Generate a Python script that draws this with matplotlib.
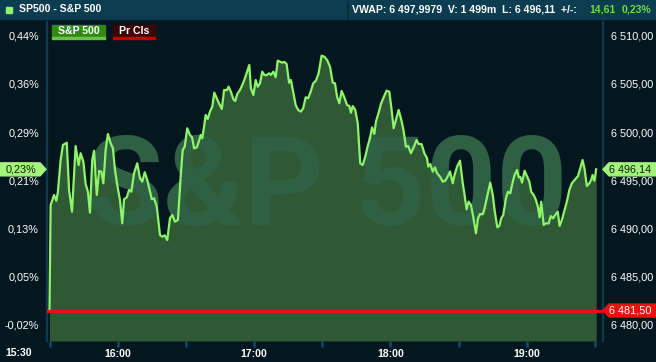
import matplotlib
matplotlib.use("Agg")
import matplotlib.pyplot as plt
import matplotlib.transforms as mtransforms
from matplotlib.patches import Rectangle, Polygon
from matplotlib.lines import Line2D

plt.rcParams['font.family'] = ['Liberation Sans', 'DejaVu Sans']

# minutes after 15:30 and S&P 500 index level
minutes = [
    0, 0.5, 2.0, 3.0, 3.7, 4.9, 5.9, 7.6, 8.6, 9.9,
    11.5, 12.8, 13.7, 14.9, 15.9, 16.9, 17.8, 18.8, 19.6, 20.8,
    21.8, 22.8, 23.7, 24.7, 25.7, 26.9, 27.9, 28.8, 29.8, 31.0,
    32.0, 32.8, 34.0, 35.0, 36.0, 37.2, 38.6, 39.8, 40.8, 41.9,
    43.0, 44.2, 45.0, 46.0, 47.2, 48.6, 49.6, 50.7, 51.8, 53.0,
    54.0, 55.2, 56.5, 57.7, 58.6, 59.5, 60.6, 61.8, 62.7, 63.6,
    64.8, 65.9, 66.5, 67.2, 68.0, 68.7, 69.6, 70.6, 71.6, 72.5,
    73.6, 74.7, 75.8, 76.8, 78.0, 78.8, 79.8, 80.9, 81.7, 82.6,
    83.8, 84.8, 85.7, 86.7, 87.9, 88.6, 89.7, 90.7, 91.6, 92.6,
    93.6, 94.5, 95.5, 96.6, 97.4, 98.5, 99.5, 100.4, 101.4, 102.4,
    103.3, 104.3, 105.4, 106.2, 107.2, 108.3, 109.4, 110.6, 111.6, 112.7,
    113.8, 114.9, 116.0, 117.2, 118.4, 119.7, 120.9, 122.1, 123.4, 124.6,
    125.6, 126.5, 127.5, 128.5, 129.7, 130.9, 131.9, 132.6, 133.4, 134.5,
    135.6, 136.7, 137.8, 138.9, 140.0, 141.0, 141.9, 142.9, 143.6, 144.8,
    145.8, 147.0, 148.3, 149.5, 150.5, 151.4, 152.4, 153.6, 154.6, 155.6,
    156.8, 157.8, 159.0, 160.2, 161.5, 162.4, 163.7, 164.9, 166.1, 166.6,
    167.5, 168.6, 169.6, 170.5, 171.8, 173.0, 174.1, 175.2, 176.2, 177.4,
    178.2, 179.3, 180.6, 181.8, 182.6, 183.5, 184.4, 185.4, 186.4, 187.6,
    188.5, 189.4, 190.6, 191.4, 192.5, 193.9, 195.0, 195.8, 197.0, 197.9,
    198.7, 199.6, 200.8, 201.7, 202.7, 203.8, 204.6, 205.7, 206.4, 207.1,
    207.9, 209.0, 210.0, 211.1, 211.9, 213.0, 214.0, 214.9, 215.6, 216.3,
    217.4, 218.4, 219.6, 220.5, 221.5, 222.5, 223.6, 224.4, 225.4, 226.6,
    227.6, 228.7, 229.8, 231.3, 232.5, 233.5, 234.5, 235.4, 236.4, 237.5,
    238.3, 238.9, 239.7, 240.5,
]
prices = [
    6481.50, 6492.44, 6493.48, 6492.89, 6493.82, 6497.11, 6498.67, 6498.90, 6494.00, 6491.75,
    6498.56, 6496.59, 6497.81, 6496.93, 6494.62, 6493.82, 6491.65, 6497.11, 6498.07, 6493.48,
    6495.97, 6495.90, 6494.69, 6498.15, 6499.81, 6498.84, 6498.32, 6496.07, 6494.52, 6492.96,
    6490.55, 6493.04, 6493.24, 6494.00, 6493.82, 6495.73, 6496.77, 6495.21, 6494.86, 6495.84,
    6495.04, 6493.82, 6493.04, 6493.14, 6492.27, 6489.33, 6489.16, 6489.30, 6488.81, 6491.06,
    6491.41, 6490.71, 6490.89, 6495.38, 6498.15, 6498.49, 6500.40, 6499.70, 6499.46, 6498.32,
    6498.43, 6499.18, 6499.70, 6499.36, 6500.56, 6501.78, 6501.36, 6502.12, 6502.64, 6504.09,
    6503.51, 6502.92, 6502.40, 6504.37, 6504.35, 6504.71, 6504.19, 6503.41, 6503.23, 6503.95,
    6504.37, 6504.89, 6505.41, 6506.10, 6506.96, 6504.55, 6503.85, 6505.41, 6504.71, 6505.06,
    6506.27, 6505.93, 6505.90, 6506.10, 6505.93, 6506.27, 6505.69, 6507.41, 6507.30, 6507.20,
    6507.28, 6507.07, 6505.13, 6505.41, 6504.19, 6502.81, 6502.30, 6502.12, 6502.47, 6503.61,
    6503.51, 6504.19, 6505.06, 6505.33, 6506.10, 6507.93, 6507.82, 6507.48, 6506.79, 6505.13,
    6505.06, 6503.67, 6502.99, 6504.27, 6503.61, 6502.81, 6502.71, 6502.02, 6502.70, 6502.30,
    6500.92, 6496.77, 6496.59, 6497.45, 6498.56, 6499.36, 6500.50, 6499.81, 6501.08, 6502.02,
    6502.92, 6503.61, 6504.30, 6504.19, 6502.30, 6500.40, 6501.26, 6502.30, 6501.43, 6500.38,
    6498.49, 6498.56, 6497.81, 6498.43, 6499.18, 6498.77, 6498.75, 6497.81, 6497.29, 6496.42,
    6496.70, 6495.90, 6496.35, 6495.73, 6495.38, 6494.86, 6494.96, 6495.40, 6495.92, 6494.69,
    6495.56, 6496.42, 6497.04, 6494.70, 6493.48, 6492.00, 6492.79, 6492.44, 6491.23, 6489.51,
    6491.06, 6491.51, 6491.48, 6492.10, 6493.30, 6494.76, 6493.50, 6491.93, 6490.13, 6490.27,
    6491.05, 6491.40, 6493.14, 6493.82, 6493.66, 6494.85, 6495.55, 6496.07, 6495.32, 6495.36,
    6494.76, 6496.00, 6495.45, 6494.86, 6493.82, 6493.48, 6492.96, 6492.21, 6491.17, 6492.79,
    6490.37, 6490.55, 6490.53, 6491.30, 6491.06, 6491.41, 6491.75, 6490.27, 6490.89, 6491.93,
    6492.79, 6494.00, 6494.69, 6495.11, 6495.45, 6496.25, 6497.11, 6496.15, 6494.41, 6494.70,
    6495.04, 6495.56, 6494.96, 6496.14,
]

prev_close = 6481.50
last_price = 6496.14
price_ticks = [6480, 6485, 6490, 6495, 6500, 6505, 6510]
time_ticks = [0, 30, 60, 90, 120, 150, 180, 210, 240]
time_labels = ["", "16:00", "", "17:00", "", "18:00", "", "19:00", ""]
header_info = "VWAP: 6 497,9979  V: 1 499m  L: 6 496,11  +/-:"
header_change = "14,61"
header_pct = "0,23%"

BG = '#04171f'
HEADER = '#0b3c50'
FILL = '#2f5934'
LINE = '#8ef56a'
RED = '#e8120f'
SPINE = '#0e3a50'
TAG_GREEN = '#a2f57a'


def fmt_price(v):
    return f"{v:,.2f}".replace(",", " ").replace(".", ",")


def fmt_pct(v):
    return f"{(v / prev_close - 1) * 100:.2f}%".replace(".", ",")


W, H = 656, 362
fig = plt.figure(figsize=(W / 100, H / 100), dpi=100, facecolor=BG)


def fx(x):
    return x / W


def fy(y):
    return 1 - y / H


# header bar
fig.add_artist(Rectangle((0, fy(19)), 1, 19 / H, transform=fig.transFigure,
                         color=HEADER, zorder=0))
fig.add_artist(Rectangle((fx(6), fy(12.5)), 5.5 / W, 5.5 / H, transform=fig.transFigure,
                         color=LINE, zorder=1))
fig.add_artist(Line2D([fx(348), fx(348)], [fy(2), fy(18)], color='#062a38', lw=1.2))
fig.text(fx(19), fy(9.5), "SP500 - S&P 500", color='white', fontsize=7.6,
         fontweight='bold', va='center', ha='left')
fig.text(fx(352), fy(9.5), header_info, color='white', fontsize=7.6,
         fontweight='bold', va='center', ha='left')
fig.text(fx(589), fy(9.5), header_change, color='#72d84c', fontsize=7.6,
         fontweight='bold', va='center', ha='left')
fig.text(fx(622), fy(9.5), header_pct, color='#72d84c', fontsize=7.6,
         fontweight='bold', va='center', ha='left')

# main panel
ax = fig.add_axes([fx(47), 21 / H, (603 - 47) / W, 319 / H])
ax.set_facecolor(BG)
ymin, ymax = 6478.34, 6511.42
ax.set_xlim(-1.1, 243.5)
ax.set_ylim(ymin, ymax)

area = ax.fill_between(minutes, prices, ymin, color=FILL, lw=0, zorder=1)
ax.plot(minutes, prices, color=LINE, lw=1.6, zorder=3, solid_joinstyle='round')
ax.axhline(prev_close, color=RED, lw=2.3, zorder=4)

# watermark: dark-blue on the background, lighter teal where it sits on the area
wm = dict(transform=ax.transAxes, ha='center', va='baseline', fontsize=89,
          fontfamily='Roboto', fontweight='bold')
ax.text(0.5036, (341 - 225) / 319, "S&P 500", color='#082b3b', zorder=0.5, **wm)
wm_on_area = ax.text(0.5036, (341 - 225) / 319, "S&P 500", color='#2f6043', zorder=2, **wm)
wm_on_area.set_clip_path(area.get_paths()[0], ax.transData)

for side in ['top', 'bottom']:
    ax.spines[side].set_visible(False)
for side in ['left', 'right']:
    ax.spines[side].set_color(SPINE)
    ax.spines[side].set_linewidth(1.6)

ax.set_xticks(time_ticks)
ax.set_xticklabels(time_labels, fontweight='bold')
ax.tick_params(axis='x', direction='out', length=4.5, width=1.8, color='#0f4c68',
               labelcolor='white', labelsize=7.6, pad=1.5)

ax.set_yticks(price_ticks)
ax.set_yticklabels([fmt_pct(v) for v in price_ticks])
ax.tick_params(axis='y', length=0, labelcolor='white', labelsize=7.8, pad=5.8)

ax2 = ax.twinx()
ax2.set_ylim(ymin, ymax)
ax2.set_yticks(price_ticks)
ax2.set_yticklabels([fmt_price(v) for v in price_ticks])
ax2.tick_params(axis='y', length=0, labelcolor='white', labelsize=7.8, pad=5.8)
for side in ['top', 'bottom', 'left', 'right']:
    ax2.spines[side].set_visible(False)

fig.text(fx(5), fy(353), "15:30", color='white', fontsize=7.6, fontweight='bold',
         va='center', ha='left')

# legend tags at top left
fig.add_artist(Rectangle((fx(52), fy(37)), 53 / W, 12 / H, transform=fig.transFigure,
                         color='#2f8a12', zorder=5))
fig.add_artist(Rectangle((fx(52), fy(39)), 53 / W, 2 / H, transform=fig.transFigure,
                         color='#6cc04a', zorder=5))
fig.text(fx(78.5), fy(31), "S&P 500", color='white', fontsize=7.6, fontweight='bold',
         va='center', ha='center', zorder=6)
fig.add_artist(Rectangle((fx(113), fy(37)), 42 / W, 12 / H, transform=fig.transFigure,
                         color='#3a0606', zorder=5))
fig.add_artist(Rectangle((fx(113), fy(39)), 42 / W, 2 / H, transform=fig.transFigure,
                         color='#c40000', zorder=5))
fig.text(fx(134), fy(31), "Pr Cls", color='white', fontsize=7.6, fontweight='bold',
         va='center', ha='center', zorder=6)

# price tags
ident = mtransforms.IdentityTransform()


def price_tag(value, color, text_color, left_text=None):
    yc = ax.transData.transform((0, value))[1]
    h = 6.5
    pts = [(603, yc), (609, yc - h), (656, yc - h), (656, yc + h), (609, yc + h)]
    fig.add_artist(Polygon(pts, closed=True, transform=ident, color=color, zorder=7))
    fig.text(609, yc, fmt_price(value), transform=ident, color=text_color,
             fontsize=7.8, va='center', ha='left', zorder=8)
    if left_text is not None:
        pts = [(0, yc - h), (40, yc - h), (46, yc), (40, yc + h), (0, yc + h)]
        fig.add_artist(Polygon(pts, closed=True, transform=ident, color=color, zorder=7))
        fig.text(21, yc, left_text, transform=ident, color=text_color,
                 fontsize=7.8, va='center', ha='center', zorder=8)


price_tag(last_price, TAG_GREEN, '#0c1d0a', left_text=fmt_pct(last_price))
price_tag(prev_close, RED, 'white')

fig.savefig("out.png", dpi=100, facecolor=BG)
